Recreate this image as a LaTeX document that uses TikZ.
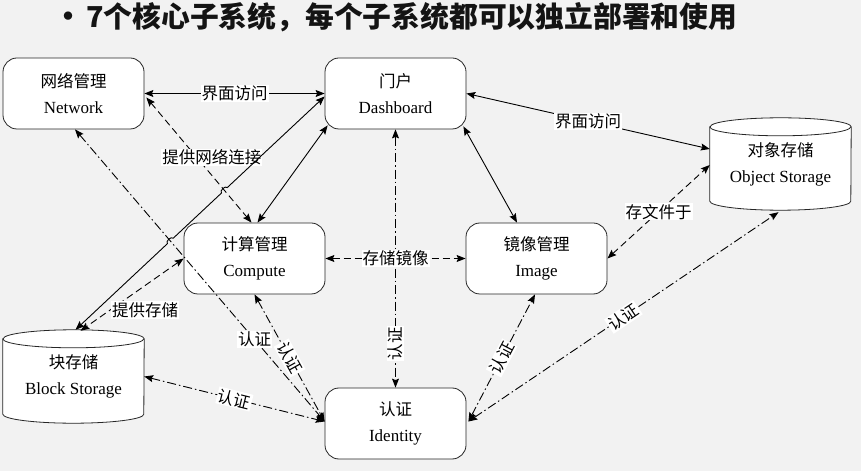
\documentclass[tikz,border=0pt]{standalone}
\usepackage{fontspec}
\setmainfont{Liberation Serif}
\newfontfamily\cjk{Noto Sans CJK SC}
\usetikzlibrary{arrows.meta,calc,intersections}
\pgfdeclarelayer{back}
\pgfdeclarelayer{bg}
\pgfsetlayers{back,bg,main}
\newcommand\twol[2]{{\cjk\fontsize{16.5}{26}\selectfont #1}\\{#2}}
\begin{document}
\begin{tikzpicture}[x=1pt,y=1pt,
  >={Stealth[length=9pt,width=7pt,inset=1.5pt]},
  box/.style={draw=black!85, line width=0.8pt, rounded corners=14pt, fill=white,
    minimum width=141pt, minimum height=71pt, align=center, inner sep=0pt,
    font=\fontsize{17}{26}\selectfont},
  cyltext/.style={minimum width=141pt, minimum height=#1, align=center, inner sep=0pt,
    font=\fontsize{17}{26}\selectfont},
  cylshape/.style={draw=black!85, line width=0.8pt, fill=white},
  lbl/.style={fill=white, inner sep=1pt, font=\cjk\fontsize{16.5}{18}\selectfont},
  conn/.style={line width=0.9pt, <->},
  dsh/.style={conn, dash pattern=on 7pt off 4pt},
  dshdot/.style={conn, dash pattern=on 9pt off 3pt on 1.5pt off 3pt},
  titlefont/.style={font=\cjk\bfseries\fontsize{28.8}{32}\selectfont, text=black!92, inner sep=0pt},
]
\useasboundingbox (0,0) rectangle (861,471);
\begin{pgfonlayer}{back}
  \fill[black!5] (0,0) rectangle (861,471);
\end{pgfonlayer}

% title
\node[titlefont, font=\cjk\bfseries\fontsize{30}{32}\selectfont] (bul) at (68,451.5) {•};
\node[titlefont, anchor=west] (title) at (86,453.5)
  {7个核心子系统，每个子系统都可以独立部署和使用};

% nodes
\node[box] (net)  at (73.5,377.5) {\twol{网络管理}{Network}};
\node[box] (dash) at (395.5,377.5) {\twol{门户}{Dashboard}};
\node[box] (comp) at (254.5,212.5) {\twol{计算管理}{Compute}};
\node[box] (img)  at (536.5,212.5) {\twol{镜像管理}{Image}};
\node[box] (idn)  at (395.5,47.5) {\twol{认证}{Identity}};
\node[cyltext=93pt] (blk) at (73.5,94.5) {\twol{块存储}{Block Storage}};
\node[cyltext=92pt] (obj) at (780.5,307) {\twol{对象存储}{Object Storage}};

\begin{pgfonlayer}{bg}
  \foreach \c in {blk,obj}{
    \draw[cylshape] ($(\c.north west)+(0,-9)$) -- ($(\c.south west)+(0,9)$)
      arc[start angle=180, end angle=360, x radius=70.5pt, y radius=9pt]
      -- ($(\c.north east)+(0,-9)$)
      arc[start angle=0, end angle=180, x radius=70.5pt, y radius=9pt] -- cycle;
    \draw[cylshape, fill=none] ($(\c.north west)+(0,-9)$)
      arc[start angle=180, end angle=360, x radius=70.5pt, y radius=9pt];
  }
\end{pgfonlayer}

% connectors
\draw[conn] (net.east) -- node[lbl] (l1) {界面访问} (dash.west);
\draw[dsh, name path=nc] ($(net.east)+(2,-4)$) -- node[lbl, pos=0.48, xshift=15pt] (l2) {提供网络连接} ($(comp.north)+(-3,0)$);
\draw[conn] ($(dash.south west)+(3,4)$) -- ($(comp.north)+(3,0)$);
\draw[dshdot, name path=ni] ($(net.south)+(1.5,0)$) -- node[lbl, pos=0.72] (l3) {认证} ($(idn.west)+(0,2)$);

\path[name path=db] ($(dash.west)+(0,-3)$) -- ($(blk.north)+(2,0)$);
\path[name intersections={of=db and nc, by=X1}];
\path[name intersections={of=db and ni, by=X2}];
\draw[conn] ($(dash.west)+(0,-3)$) -- ($(X1)!4pt!(dash.west)$) to[bend right=90] ($(X1)!4pt!(blk.north)$)
  -- ($(X2)!4pt!(dash.west)$) to[bend right=90] ($(X2)!4pt!(blk.north)$) -- ($(blk.north)+(2,0)$);

\draw[dsh] (comp.west) -- ($(blk.north)+(7,-1)$);
\node[lbl] (l4) at (145,161) {提供存储};

\draw[dshdot] (comp.south) -- node[lbl, sloped] (l5) {认证} ($(idn.west)+(0,2)$);
\draw[dshdot] (blk.east) -- node[lbl, sloped] (l6) {认证} ($(idn.west)+(0,2)$);
\draw[dshdot] (dash.south) -- node[lbl, rotate=90, pos=0.83] (l7) {认证} (idn.north);
\draw[dsh] (comp.east) -- node[lbl] (l8) {存储镜像} (img.west);
\draw[conn] ($(dash.south east)+(-3,3)$) -- ($(img.north)+(-19.5,0)$);
\draw[conn] (dash.east) -- node[lbl] (l9) {界面访问} ($(obj.west)+(0,15)$);
\draw[dsh] (img.east) -- node[lbl] (l10) {存文件于} ($(obj.west)+(0,-1)$);
\draw[dshdot] ($(idn.east)+(2,2)$) -- node[lbl, sloped] (l11) {认证} ($(img.south)+(-1.5,0)$);
\draw[dshdot] ($(idn.east)+(2,2)$) -- node[lbl, sloped] (l12) {认证} ($(obj.south)+(-2,-2)$);
\end{tikzpicture}
\end{document}
